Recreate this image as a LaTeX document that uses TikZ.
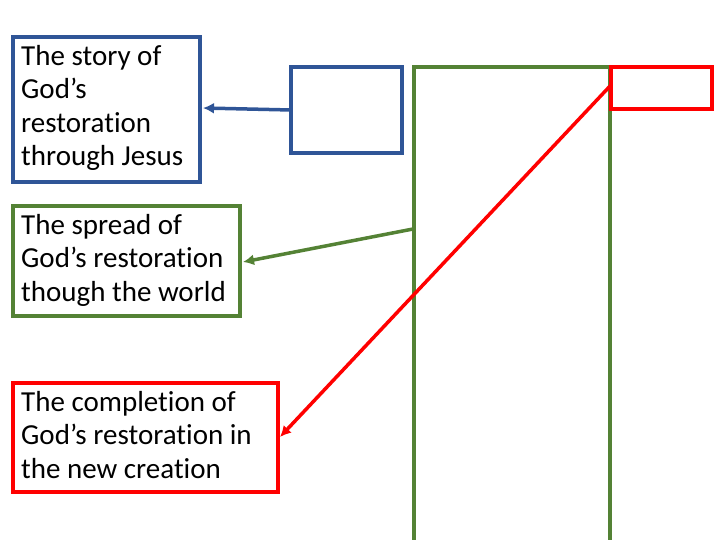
\documentclass[tikz,border=0pt]{standalone}
\usepackage{fontspec}
\setmainfont[Ligatures=NoCommon]{Carlito}
\usetikzlibrary{arrows.meta}
\definecolor{bl}{RGB}{47,85,151}
\definecolor{gr}{RGB}{84,130,53}
\definecolor{rd}{RGB}{255,0,0}
\begin{document}
\begin{tikzpicture}[x=1pt,y=-1pt,
  box/.style={line width=4.5pt},
  lab/.style={anchor=north west,align=left,font=\fontsize{29}{33.5}\selectfont,inner sep=0pt},
  arr/.style={line width=3.5pt,-{Latex[length=11pt,width=11pt]}}]
\useasboundingbox (0,0) rectangle (720,540);
\draw[box,bl] (13,37) rectangle (200,182);
\draw[box,gr] (13,206) rectangle (240,316);
\draw[box,rd] (13,383) rectangle (278,492);
\node[lab] at (21,45) {The story of\\God’s\\restoration\\through Jesus};
\node[lab] at (21,214) {The spread of\\God’s restoration\\though the world};
\node[lab] at (21,391) {The completion of\\God’s restoration in\\the new creation};
\draw[box,bl] (291,67) rectangle (402,153);
\draw[box,gr] (414,67) rectangle (610,545);
\draw[box,rd] (611,67) rectangle (712,109);
\coordinate (b1) at (291,110); \coordinate (b2) at (203,108);
\coordinate (g1) at (413,229); \coordinate (g2) at (243,262);
\coordinate (r1) at (611,85); \coordinate (r2) at (280,437);
\draw[arr,bl] (b1) -- (b2);
\draw[arr,gr] (g1) -- (g2);
\draw[arr,rd] (r1) -- (r2);
\end{tikzpicture}
\end{document}
